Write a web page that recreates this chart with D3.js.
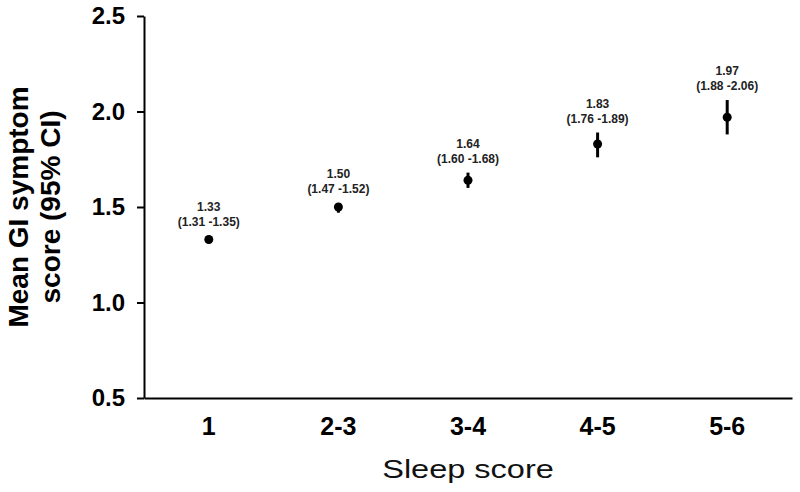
<!DOCTYPE html>
<html lang="en">
<head>
	<meta charset="UTF-8"/>
	<title>Mean GI symptom score by sleep score</title>
	<script src="https://d3js.org/d3.v7.min.js"></script>
	<style>
		body { margin: 0; background: #fff; }
		svg { display: block; font-family: Arial, "Liberation Sans", sans-serif; }
	</style>
</head>
<body>
	<script>
		// values
		var categories = ["1", "2-3", "3-4", "4-5", "5-6"];
		var means = [1.33, 1.50, 1.64, 1.83, 1.97];
		var lower = [1.31, 1.47, 1.60, 1.76, 1.88];
		var upper = [1.35, 1.52, 1.68, 1.89, 2.06];
		var yTicks = [0.5, 1.0, 1.5, 2.0, 2.5];

		var w = 800;
		var h = 492;
		// plot edges (window.top is reserved, so no "top" here)
		var plotL = 144, plotR = 792, plotT = 16, plotB = 398;

		var dataset = categories.map(function(c, i){
			return {cat: c, mean: means[i], lo: lower[i], hi: upper[i]};
		});

		var xScale = d3.scaleBand()
			.domain(categories)
			.range([plotL, plotR])
			.padding(0);

		var yScale = d3.scaleLinear()
			.domain([0.5, 2.5])
			.range([plotB, plotT]);

		var svg = d3.select("body").append("svg").attr("width", w).attr("height", h);

		// y axis
		var yAxis = svg.append("g")
			.attr("transform", "translate(" + plotL + ",0)")
			.call(d3.axisLeft(yScale)
				.tickValues(yTicks)
				.tickFormat(d3.format(".1f"))
				.tickSize(7)
				.tickSizeOuter(0)
				.tickPadding(12));
		yAxis.selectAll("path, line").attr("stroke", "#000").attr("stroke-width", 2);
		yAxis.selectAll("text")
			.attr("font-size", "24px")
			.attr("font-weight", "bold")
			.attr("fill", "#000");

		// x axis
		var xAxis = svg.append("g")
			.attr("transform", "translate(0," + plotB + ")")
			.call(d3.axisBottom(xScale)
				.tickSize(0)
				.tickSizeOuter(0)
				.tickPadding(19));
		xAxis.select("path").attr("stroke", "#000").attr("stroke-width", 2);
		xAxis.selectAll("text")
			.attr("font-size", "25px")
			.attr("font-weight", "bold")
			.attr("fill", "#000");

		var cx = function(d){ return xScale(d.cat) + xScale.bandwidth() / 2; };

		// confidence intervals
		svg.selectAll("line.ci").data(dataset).enter().append("line")
			.attr("class", "ci")
			.attr("x1", cx)
			.attr("x2", cx)
			.attr("y1", function(d){ return yScale(d.lo); })
			.attr("y2", function(d){ return yScale(d.hi); })
			.attr("stroke", "#000")
			.attr("stroke-width", 3);

		// means
		svg.selectAll("circle").data(dataset).enter().append("circle")
			.attr("cx", cx)
			.attr("cy", function(d){ return yScale(d.mean); })
			.attr("r", 4.5)
			.attr("fill", "#000");

		// value labels
		svg.selectAll("text.val").data(dataset).enter().append("text")
			.attr("class", "val")
			.text(function(d){ return d.mean.toFixed(2); })
			.attr("x", cx)
			.attr("y", function(d){ return yScale(d.hi) - 29; })
			.attr("dy", "0.35em")
			.attr("text-anchor", "middle")
			.attr("font-size", "12px")
			.attr("font-weight", "bold")
			.attr("fill", "#222");

		svg.selectAll("text.ci-lab").data(dataset).enter().append("text")
			.attr("class", "ci-lab")
			.text(function(d){ return "(" + d.lo.toFixed(2) + " -" + d.hi.toFixed(2) + ")"; })
			.attr("x", cx)
			.attr("y", function(d){ return yScale(d.hi) - 14; })
			.attr("dy", "0.35em")
			.attr("text-anchor", "middle")
			.attr("font-size", "12px")
			.attr("font-weight", "bold")
			.attr("fill", "#222");

		// axis titles
		// the x title in the figure is drawn wide, so stretch it sideways
		svg.append("text")
			.text("Sleep score")
			.attr("transform", "translate(" + (plotL + plotR) / 2 + ",478) scale(1.25,1)")
			.attr("text-anchor", "middle")
			.attr("font-size", "26px")
			.attr("fill", "#111");

		var midY = (plotT + plotB) / 2;
		svg.append("text")
			.text("Mean GI symptom")
			.attr("transform", "translate(28," + midY + ") rotate(-90)")
			.attr("text-anchor", "middle")
			.attr("font-size", "28px")
			.attr("font-weight", "bold")
			.attr("fill", "#000");
		svg.append("text")
			.text("score (95% CI)")
			.attr("transform", "translate(60," + midY + ") rotate(-90)")
			.attr("text-anchor", "middle")
			.attr("font-size", "28px")
			.attr("font-weight", "bold")
			.attr("fill", "#000");
	</script>
</body>
</html>
